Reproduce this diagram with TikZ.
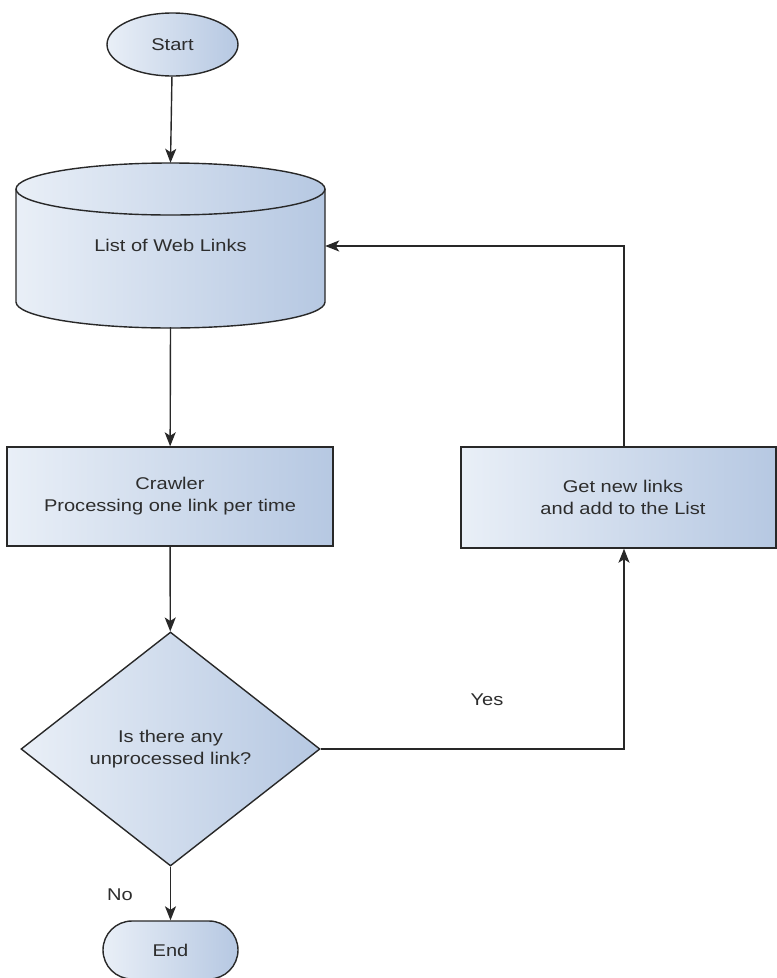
\documentclass[tikz,border=0pt]{standalone}
\usepackage{fontspec}
\setmainfont{Liberation Sans}[FakeStretch=1.18]
\usetikzlibrary{shapes.geometric,shapes.misc,arrows.meta}
\definecolor{ink}{RGB}{45,45,45}
\definecolor{edge}{RGB}{40,40,40}
\definecolor{shadeL}{RGB}{233,239,247}
\definecolor{shadeR}{RGB}{182,200,226}
\begin{document}
\begin{tikzpicture}[x=1pt,y=-1pt,
  every node/.style={text=ink, font=\fontsize{17}{22}\selectfont},
  lw/.style={line width=1.4pt},
  boxfill/.style={draw=edge, lw, left color=shadeL, right color=shadeR},
  procbox/.style={boxfill, rectangle, inner sep=0pt, align=center},
  flow/.style={draw=edge, lw, -{Stealth[length=14pt,width=11pt,inset=3.5pt]}},
  plain/.style={draw=edge, lw}
]
\useasboundingbox (0,0) rectangle (777,978);
\fill[white] (0,0) rectangle (777,978);

% terminal nodes
\node[boxfill, ellipse, minimum width=131pt, minimum height=63pt, inner sep=0pt] (start) at (172.5,44.5) {Start};
\node[boxfill, rounded rectangle, minimum width=135pt, minimum height=58pt, inner sep=0pt] (end) at (170.5,950) {End};

% data store drawn as a cylinder
\path[boxfill] (16,189) -- (16,302)
  arc[start angle=180, end angle=360, x radius=154.5pt, y radius=26pt]
  -- (325,189)
  arc[start angle=0, end angle=180, x radius=154.5pt, y radius=26pt] -- cycle;
\draw[plain] (16,189) arc[start angle=180, end angle=360, x radius=154.5pt, y radius=26pt];
\node[minimum width=309pt, minimum height=164pt, inner sep=0pt] (list) at (170.5,245) {List of Web Links};

% process boxes
\node[procbox, minimum width=326pt, minimum height=99pt] (crawl) at (170,496.5)
  {Crawler\\Processing one link per time};
\node[procbox, minimum width=315pt, minimum height=101pt] (getnew) at (618.5,497.5)
  {\hspace*{9pt}Get new links\\\hspace*{9pt}and add to the List};

% decision
\node[boxfill, diamond, minimum width=299pt, minimum height=234pt, inner sep=0pt, align=center] (dec) at (170.5,749)
  {Is there any\\unprocessed link?};

% labels
\node (no) at (120,895) {No};
\node (yes) at (487,700) {Yes};

% connectors
\draw[flow] (start) -- (list.north);
\draw[flow] (list.south) -- (crawl);
\draw[flow] (crawl) -- (dec);
\draw[flow] (dec) -- (end);
\coordinate (turnA) at (624,749);
\coordinate (turnB) at (624,246);
\draw[flow] (dec.east) -- (turnA) -- ([xshift=5.5pt]getnew.south);
\draw[flow] ([xshift=5.5pt]getnew.north) -- (turnB) -- (list.east |- turnB);
\end{tikzpicture}
\end{document}
